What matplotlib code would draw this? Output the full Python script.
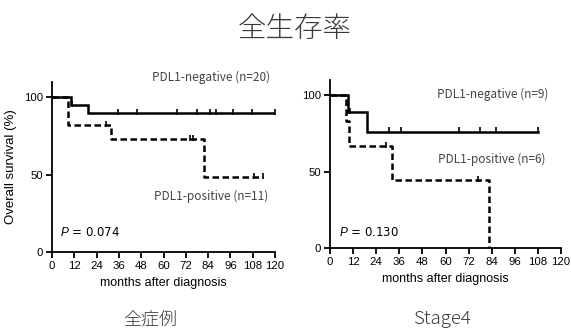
import matplotlib
matplotlib.use("Agg")
import matplotlib.pyplot as plt

# ---------------- data ----------------
xticks = [0, 12, 24, 36, 48, 60, 72, 84, 96, 108, 120]
yticks = [0, 50, 100]

# 全症例
all_neg_t = [0, 10, 19.5, 120]
all_neg_s = [100, 95, 89.5, 89.5]
all_neg_cens_t = [11, 35.5, 46, 67, 78, 85, 88.5, 97.5, 107.7, 120]
all_neg_cens_s = [95, 89.5, 89.5, 89.5, 89.5, 89.5, 89.5, 89.5, 89.5, 89.5]

all_pos_t = [0, 8.8, 32, 82, 113.5]
all_pos_s = [100, 81.8, 72.7, 48.5, 48.5]
all_pos_cens_t = [29, 74, 76, 108.6, 113.5]
all_pos_cens_s = [81.8, 72.7, 72.7, 48.5, 48.5]

# Stage4
st4_neg_t = [0, 9.5, 19.4, 108]
st4_neg_s = [100, 88.9, 76.2, 76.2]
st4_neg_cens_t = [10.4, 30.6, 36.7, 67, 78, 86, 108]
st4_neg_cens_s = [88.9, 76.2, 76.2, 76.2, 76.2, 76.2, 76.2]

st4_pos_t = [0, 8.3, 10, 32, 82.8]
st4_pos_s = [100, 83.3, 66.7, 44.4, 0]
st4_pos_cens_t = [29, 77]
st4_pos_cens_s = [66.7, 44.4]

title = "全生存率"
panel_titles = ["全症例", "Stage4"]
neg_labels = ["PDL1-negative (n=20)", "PDL1-negative (n=9)"]
pos_labels = ["PDL1-positive (n=11)", "PDL1-positive (n=6)"]
pvals = ["0.074", "0.130"]
xlabel = "months after diagnosis"
ylabel = "Overall survival (%)"

# ---------------- fonts ----------------
sans = ["Liberation Sans", "DejaVu Sans"]
cjk = ["Noto Sans CJK JP", "DejaVu Sans"]
plt.rcParams["mathtext.fontset"] = "custom"
plt.rcParams["mathtext.it"] = "Liberation Sans:italic"
plt.rcParams["mathtext.rm"] = "Liberation Sans"

fig = plt.figure(figsize=(5.71, 3.30), dpi=100)
W, H = 571, 330

def axes_px(x0, x1, ybot, ytop):
    return fig.add_axes([x0 / W, (H - ybot) / H, (x1 - x0) / W, (ybot - ytop) / H])

ax1 = axes_px(52, 275, 252, 81.7)
ax2 = axes_px(330, 561, 248.3, 80)

panels = [
    (ax1, all_neg_t, all_neg_s, all_neg_cens_t, all_neg_cens_s,
     all_pos_t, all_pos_s, all_pos_cens_t, all_pos_cens_s),
    (ax2, st4_neg_t, st4_neg_s, st4_neg_cens_t, st4_neg_cens_s,
     st4_pos_t, st4_pos_s, st4_pos_cens_t, st4_pos_cens_s),
]

for i, (ax, nt, ns, nct, ncs, pt, ps, pct, pcs) in enumerate(panels):
    ax.step(nt, ns, where="post", color="black", lw=1.8, solid_joinstyle="miter")
    ax.plot(nct, [v + 0.8 for v in ncs], ls="none", marker="|", ms=5, mew=1.2, color="black")
    ax.step(pt, ps, where="post", color="black", lw=1.8, dashes=(2.6, 1.4))
    ax.plot(pct, [v + 0.8 for v in pcs], ls="none", marker="|", ms=5, mew=1.2, color="black")

    ax.set_xlim(0, 120)
    ax.set_ylim(0, 110)
    ax.set_xticks(xticks)
    ax.set_yticks(yticks)
    ax.set_xticklabels([str(t) for t in xticks], family=sans, fontsize=8.2)
    ax.set_yticklabels([str(t) for t in yticks], family=sans, fontsize=8.2)
    for s in ["top", "right"]:
        ax.spines[s].set_visible(False)
    for s in ["left", "bottom"]:
        ax.spines[s].set_linewidth(1.3)
    ax.tick_params(axis="both", direction="out", length=4, width=1.3, pad=2.5, colors="black")
    ax.set_xlabel(xlabel, family=sans, fontsize=9, labelpad=4)
    ax.patch.set_visible(False)

ax1.set_ylabel(ylabel, family=sans, fontsize=9.5)
ax1.yaxis.set_label_coords(-0.157, 0.5)

# annotations
ax1.text(117.3, 113, neg_labels[0], family=cjk, fontsize=8.5, color="#444444",
         ha="right", va="center", clip_on=False)
ax1.text(116.3, 36, pos_labels[0], family=cjk, fontsize=8.5, color="#444444",
         ha="right", va="center")
ax2.text(84.7, 100.5, neg_labels[1], family=cjk, fontsize=8.5, color="#444444",
         ha="center", va="center")
ax2.text(84, 58.2, pos_labels[1], family=cjk, fontsize=8.5, color="#444444",
         ha="center", va="center")
ax1.text(4.3, 12.3, "$P$ = " + pvals[0], fontsize=8.5, ha="left", va="center")
ax2.text(4.7, 10.6, "$P$ = " + pvals[1], fontsize=8.5, ha="left", va="center")

fig.text(295 / W, (H - 29) / H, title, family=cjk, fontsize=20.5, color="#3a3a3a",
         fontweight="light", ha="center", va="center")
fig.text(150 / W, (H - 319) / H, panel_titles[0], family=cjk, fontsize=13, color="#3a3a3a",
         fontweight="light", ha="center", va="center")
fig.text(442 / W, (H - 319) / H, panel_titles[1], family=cjk, fontsize=13.5, color="#3a3a3a",
         fontweight="light", ha="center", va="center")

fig.savefig("out.png", dpi=100)
